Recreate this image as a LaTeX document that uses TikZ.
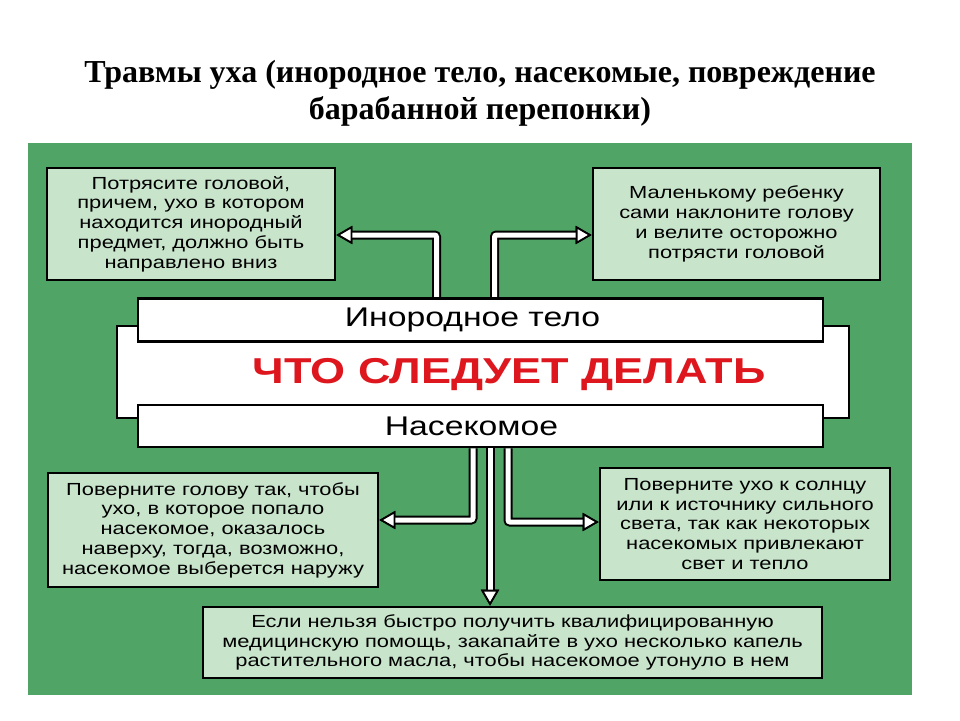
\documentclass[tikz,border=0pt]{standalone}
\usepackage{fontspec}
\setmainfont{Liberation Serif}
\newfontfamily\boxfont[FakeStretch=1.25]{Liberation Sans}
\usetikzlibrary{arrows.meta,positioning,backgrounds}
\definecolor{panelgreen}{RGB}{80,164,102}
\definecolor{tipfill}{RGB}{200,228,203}
\definecolor{alertred}{RGB}{222,22,30}

\begin{document}
\begin{tikzpicture}[x=1pt, y=-1pt,
  tipbox/.style={draw=black, line width=2.6pt, fill=tipfill, align=center,
    font=\boxfont\fontsize{17.5}{19.8}\selectfont, inner sep=0pt},
  band/.style={draw=black, line width=2.6pt, fill=white, inner sep=0pt,
    minimum width=685pt, font=\boxfont\fontsize{27}{30}\selectfont},
  conn/.style={white, line width=5pt, rounded corners=2pt,
    preaction={draw=black, line width=9pt},
    -{Triangle[length=16pt, width=18pt, fill=white, color=black, line width=1.8pt]}},
]
\useasboundingbox (0,0) rectangle (960,720);

% --- Title ---
\node[align=center, font=\bfseries\fontsize{32}{37}\selectfont] (title) at (480,93)
  {Травмы уха (инородное тело, насекомые, повреждение\\барабанной перепонки)};

% --- Centre block ---
\node[draw=black, line width=2.6pt, fill=white, minimum width=732pt,
  minimum height=92pt] (whattodo) at (483,372) {};
\node[font=\boxfont\bfseries\fontsize{36}{40}\selectfont, text=alertred]
  (whattext) at (509,375) {ЧТО СЛЕДУЕТ ДЕЛАТЬ};
\node[band, minimum height=43pt] (foreign) at (480.5,320) {Инородное тело\kern16pt};
\node[band, minimum height=42pt] (insect) at (480.5,426) {Насекомое\kern18pt};

% --- Tips ---
\node[tipbox, minimum width=288pt, minimum height=112pt] (shake) at (191,224)
  {Потрясите головой,\\причем, ухо в котором\\находится инородный\\предмет, должно быть\\направлено вниз};
\node[tipbox, minimum width=287pt, minimum height=112pt] (tilt) at (736.5,224)
  {Маленькому ребенку\\сами наклоните голову\\и велите осторожно\\потрясти головой};
\node[tipbox, minimum width=330pt, minimum height=114pt] (turnup) at (213,530)
  {Поверните голову так, чтобы\\ухо, в которое попало\\насекомое, оказалось\\наверху, тогда, возможно,\\насекомое выберется наружу};
\node[tipbox, minimum width=290pt, minimum height=112pt] (light) at (745,524)
  {Поверните ухо к солнцу\\или к источнику сильного\\света, так как некоторых\\насекомых привлекают\\свет и тепло};
\node[tipbox, minimum width=619pt, minimum height=71pt] (oil) at (512.5,642.5)
  {Если нельзя быстро получить квалифицированную\\медицинскую помощь, закапайте в ухо несколько капель\\растительного масла, чтобы насекомое утонуло в нем};

% --- Panel and arrows ---
\begin{scope}[on background layer]
  \fill[white] (0,0) rectangle (960,720);
  \fill[panelgreen] (28,143) rectangle (912,695);
  \draw[conn] ([xshift=-44pt]foreign.north) |- ([yshift=-11pt]shake.east);
  \draw[conn] ([xshift=14pt]foreign.north) |- ([yshift=-11pt]tilt.west);
  \draw[conn] ([xshift=-7.5pt]insect.south) |- ([yshift=10pt]turnup.east);
  \draw[conn] ([xshift=27.5pt]insect.south) |- ([yshift=2pt]light.west);
  \draw[conn] ([xshift=9.5pt]insect.south) -- ([xshift=-22.5pt]oil.north);
\end{scope}
\end{tikzpicture}
\end{document}
